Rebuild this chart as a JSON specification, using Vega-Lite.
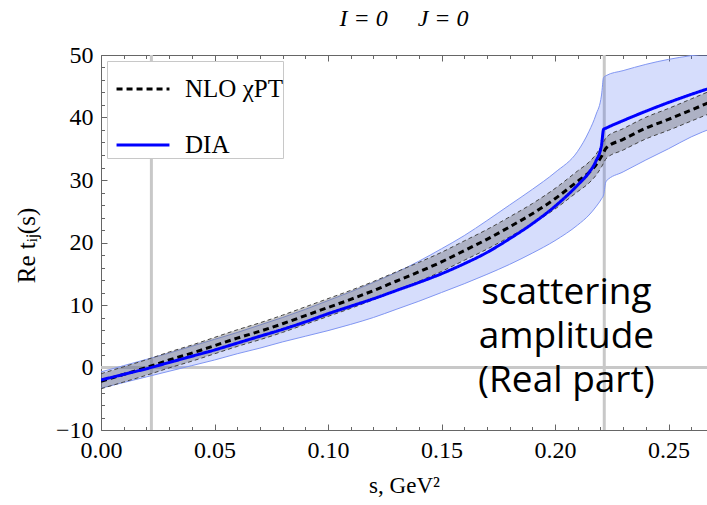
{
  "$schema": "https://vega.github.io/schema/vega-lite/v6.json",
  "width": 606,
  "height": 375,
  "autosize": {"type": "none"},
  "padding": {"left": 101, "top": 55, "right": 0, "bottom": 75},
  "title": {"text": "I = 0\u00a0\u00a0\u00a0\u00a0\u00a0J = 0", "font": "Liberation Serif", "fontSize": 24, "fontStyle": "italic", "fontWeight": "normal", "color": "black", "offset": 12, "anchor": "middle"},
  "datasets": {
    "curves": [
      {"s": 0.0, "nlo": -2.2, "nlo_lo": -3.4, "nlo_hi": -1.0, "dia": -2.0, "dia_lo": -3.3, "dia_hi": -0.7},
      {"s": 0.01, "nlo": -1.1, "nlo_lo": -2.32, "nlo_hi": 0.12, "dia": -1.1, "dia_lo": -2.4, "dia_hi": 0.3},
      {"s": 0.02, "nlo": 0.0, "nlo_lo": -1.24, "nlo_hi": 1.24, "dia": -0.2, "dia_lo": -1.5, "dia_hi": 1.3},
      {"s": 0.03, "nlo": 1.2, "nlo_lo": -0.07, "nlo_hi": 2.47, "dia": 0.8, "dia_lo": -0.6, "dia_hi": 2.3},
      {"s": 0.04, "nlo": 2.3, "nlo_lo": 1.01, "nlo_hi": 3.59, "dia": 1.8, "dia_lo": 0.3, "dia_hi": 3.4},
      {"s": 0.05, "nlo": 3.5, "nlo_lo": 2.19, "nlo_hi": 4.81, "dia": 2.8, "dia_lo": 1.2, "dia_hi": 4.5},
      {"s": 0.06, "nlo": 4.7, "nlo_lo": 3.37, "nlo_hi": 6.03, "dia": 3.9, "dia_lo": 2.2, "dia_hi": 5.6},
      {"s": 0.07, "nlo": 5.8, "nlo_lo": 4.45, "nlo_hi": 7.15, "dia": 5.0, "dia_lo": 3.1, "dia_hi": 6.8},
      {"s": 0.08, "nlo": 7.0, "nlo_lo": 5.62, "nlo_hi": 8.38, "dia": 6.1, "dia_lo": 4.1, "dia_hi": 8.0},
      {"s": 0.09, "nlo": 8.3, "nlo_lo": 6.9, "nlo_hi": 9.7, "dia": 7.3, "dia_lo": 5.0, "dia_hi": 9.3},
      {"s": 0.10, "nlo": 9.6, "nlo_lo": 8.18, "nlo_hi": 11.02, "dia": 8.6, "dia_lo": 5.9, "dia_hi": 10.7},
      {"s": 0.11, "nlo": 10.9, "nlo_lo": 9.46, "nlo_hi": 12.34, "dia": 9.8, "dia_lo": 6.9, "dia_hi": 12.1},
      {"s": 0.12, "nlo": 12.3, "nlo_lo": 10.84, "nlo_hi": 13.76, "dia": 11.0, "dia_lo": 8.0, "dia_hi": 13.6},
      {"s": 0.13, "nlo": 13.8, "nlo_lo": 12.31, "nlo_hi": 15.29, "dia": 12.3, "dia_lo": 9.3, "dia_hi": 15.2},
      {"s": 0.14, "nlo": 15.3, "nlo_lo": 13.79, "nlo_hi": 16.81, "dia": 13.6, "dia_lo": 10.6, "dia_hi": 17.0},
      {"s": 0.15, "nlo": 16.9, "nlo_lo": 15.37, "nlo_hi": 18.43, "dia": 15.0, "dia_lo": 12.0, "dia_hi": 19.0},
      {"s": 0.16, "nlo": 18.7, "nlo_lo": 17.15, "nlo_hi": 20.25, "dia": 16.6, "dia_lo": 13.4, "dia_hi": 21.1},
      {"s": 0.17, "nlo": 20.5, "nlo_lo": 18.93, "nlo_hi": 22.07, "dia": 18.4, "dia_lo": 14.9, "dia_hi": 23.5},
      {"s": 0.18, "nlo": 22.5, "nlo_lo": 20.9, "nlo_hi": 24.1, "dia": 20.6, "dia_lo": 16.5, "dia_hi": 26.0},
      {"s": 0.19, "nlo": 24.6, "nlo_lo": 22.98, "nlo_hi": 26.22, "dia": 23.0, "dia_lo": 18.3, "dia_hi": 28.5},
      {"s": 0.20, "nlo": 27.0, "nlo_lo": 25.36, "nlo_hi": 28.64, "dia": 25.8, "dia_lo": 20.3, "dia_hi": 31.2},
      {"s": 0.21, "nlo": 29.8, "nlo_lo": 28.14, "nlo_hi": 31.46, "dia": 29.2, "dia_lo": 22.8, "dia_hi": 34.6},
      {"s": 0.215, "nlo": 31.2, "nlo_lo": 29.53, "nlo_hi": 32.87, "dia": 31.2, "dia_lo": 24.4, "dia_hi": 37.8},
      {"s": 0.218, "nlo": 32.4, "nlo_lo": 30.72, "nlo_hi": 34.08, "dia": 33.0, "dia_lo": 25.7, "dia_hi": 40.4},
      {"s": 0.2205, "nlo": 33.8, "nlo_lo": 32.11, "nlo_hi": 35.49, "dia": 35.6, "dia_lo": 27.0, "dia_hi": 43.6},
      {"s": 0.2214, "nlo": 34.4, "nlo_lo": 32.71, "nlo_hi": 36.09, "dia": 38.1, "dia_lo": 27.6, "dia_hi": 46.4},
      {"s": 0.2225, "nlo": 35.1, "nlo_lo": 33.41, "nlo_hi": 36.79, "dia": 38.3, "dia_lo": 29.8, "dia_hi": 46.7},
      {"s": 0.23, "nlo": 36.5, "nlo_lo": 34.79, "nlo_hi": 38.21, "dia": 39.5, "dia_lo": 31.3, "dia_hi": 47.5},
      {"s": 0.24, "nlo": 38.3, "nlo_lo": 36.57, "nlo_hi": 40.03, "dia": 41.0, "dia_lo": 33.2, "dia_hi": 48.5},
      {"s": 0.25, "nlo": 39.7, "nlo_lo": 37.95, "nlo_hi": 41.45, "dia": 42.4, "dia_lo": 35.0, "dia_hi": 49.3},
      {"s": 0.26, "nlo": 41.2, "nlo_lo": 39.43, "nlo_hi": 42.97, "dia": 43.7, "dia_lo": 36.9, "dia_hi": 49.9},
      {"s": 0.27, "nlo": 42.7, "nlo_lo": 40.91, "nlo_hi": 44.49, "dia": 44.9, "dia_lo": 38.4, "dia_hi": 50.4}
    ],
    "vlines": [{"s": 0.0222}, {"s": 0.2217}],
    "hlines": [{"v": 0}]
  },
  "data": {"name": "curves"},
  "layer": [
    {
      "data": {"name": "vlines"},
      "mark": {"type": "rule", "color": "#c8c8c8", "strokeWidth": 3},
      "encoding": {
        "x": {"field": "s", "type": "quantitative", "scale": {"domain": [0, 0.26696], "nice": false, "zero": false},
              "axis": {"orient": "bottom", "values": [0.01,0.02,0.03,0.04,0.06,0.07,0.08,0.09,0.11,0.12,0.13,0.14,0.16,0.17,0.18,0.19,0.21,0.22,0.23,0.24,0.26], "labels": false, "domain": false, "tickSize": -3.5, "title": null}}
      }
    },
    {
      "data": {"name": "hlines"},
      "mark": {"type": "rule", "color": "#c8c8c8", "strokeWidth": 3},
      "encoding": {
        "y": {"field": "v", "type": "quantitative", "scale": {"domain": [-10, 50], "nice": false, "zero": false},
              "axis": {"orient": "left", "values": [-8,-6,-4,-2,2,4,6,8,12,14,16,18,22,24,26,28,32,34,36,38,42,44,46,48], "labels": false, "domain": false, "tickSize": -3.5, "title": null}}
      }
    },
    {
      "mark": {"type": "area", "color": "#3355ee", "opacity": 0.2, "interpolate": "monotone", "clip": true},
      "encoding": {
        "x": {"field": "s", "type": "quantitative",
              "axis": {"orient": "bottom", "values": [0, 0.05, 0.1, 0.15, 0.2, 0.25], "format": ".2f", "labelFlush": false, "tickSize": -6, "labelPadding": 14, "title": "s, GeV²", "titlePadding": 12}},
        "y": {"field": "dia_lo", "type": "quantitative",
              "axis": {"orient": "left", "values": [-10, 0, 10, 20, 30, 40, 50], "format": "d", "labelFlush": false, "tickSize": -6, "labelPadding": 14, "title": "Re tᵢⱼ(s)", "titleFontSize": 25, "titlePadding": 16, "titleY": 190}},
        "y2": {"field": "dia_hi"}
      }
    },
    {
      "mark": {"type": "line", "color": "#8196f2", "strokeWidth": 1, "interpolate": "monotone", "clip": true},
      "encoding": {
        "x": {"field": "s", "type": "quantitative", "axis": null},
        "y": {"field": "dia_lo", "type": "quantitative", "axis": null}
      }
    },
    {
      "mark": {"type": "line", "color": "#8196f2", "strokeWidth": 1, "interpolate": "monotone", "clip": true},
      "encoding": {
        "x": {"field": "s", "type": "quantitative", "axis": null},
        "y": {"field": "dia_hi", "type": "quantitative", "axis": null}
      }
    },
    {
      "mark": {"type": "area", "color": "#707070", "opacity": 0.4, "interpolate": "monotone", "clip": true},
      "encoding": {
        "x": {"field": "s", "type": "quantitative",
              "axis": {"orient": "top", "values": [0, 0.05, 0.1, 0.15, 0.2, 0.25], "labels": false, "tickSize": -6, "title": null}},
        "y": {"field": "nlo_lo", "type": "quantitative", "axis": null},
        "y2": {"field": "nlo_hi"}
      }
    },
    {
      "mark": {"type": "line", "color": "#444444", "strokeWidth": 1, "strokeDash": [4, 3], "interpolate": "monotone", "clip": true},
      "encoding": {
        "x": {"field": "s", "type": "quantitative",
              "axis": {"orient": "top", "values": [0.01,0.02,0.03,0.04,0.06,0.07,0.08,0.09,0.11,0.12,0.13,0.14,0.16,0.17,0.18,0.19,0.21,0.22,0.23,0.24,0.26], "labels": false, "domain": false, "tickSize": -3.5, "title": null}},
        "y": {"field": "nlo_lo", "type": "quantitative", "axis": null}
      }
    },
    {
      "mark": {"type": "line", "color": "#444444", "strokeWidth": 1, "strokeDash": [4, 3], "interpolate": "monotone", "clip": true},
      "encoding": {
        "x": {"field": "s", "type": "quantitative", "axis": null},
        "y": {"field": "nlo_hi", "type": "quantitative", "axis": null}
      }
    },
    {
      "transform": [{"fold": ["nlo", "dia"], "as": ["series", "val"]}],
      "mark": {"type": "line", "strokeWidth": 3, "interpolate": "monotone", "clip": true},
      "encoding": {
        "x": {"field": "s", "type": "quantitative", "axis": null},
        "y": {"field": "val", "type": "quantitative", "axis": null},
        "stroke": {"field": "series", "type": "nominal", "title": null,
                   "scale": {"domain": ["nlo", "dia"], "range": ["#000000", "#0000ff"]},
                   "legend": {"labelExpr": "datum.label == 'nlo' ? 'NLO χPT' : 'DIA'"}},
        "strokeDash": {"field": "series", "type": "nominal", "title": null,
                   "scale": {"domain": ["nlo", "dia"], "range": [[6, 4], [1, 0]]},
                   "legend": {"labelExpr": "datum.label == 'nlo' ? 'NLO χPT' : 'DIA'"}}
      }
    },
    {
      "data": {"values": [{"label": "scattering"}]},
      "mark": {"type": "text", "font": "Open Sans", "fontSize": 37, "align": "center", "baseline": "alphabetic", "lineHeight": 44, "color": "black"},
      "encoding": {
        "x": {"datum": 0.2050, "type": "quantitative", "axis": null},
        "y": {"datum": 10.1, "type": "quantitative", "axis": null},
        "text": {"value": ["scattering", "amplitude", "(Real part)"]}
      }
    }
  ],
  "resolve": {"axis": {"x": "independent", "y": "independent"}},
  "config": {
    "view": {"stroke": null},
    "axis": {"grid": false, "labelFont": "Liberation Serif", "labelFontSize": 24, "labelColor": "black",
             "titleFont": "Liberation Serif", "titleFontSize": 23, "titleFontWeight": "normal", "titleColor": "black",
             "domainColor": "#666666", "tickColor": "#666666"},
    "legend": {"orient": "top-left", "offset": 6, "padding": 0, "fillColor": "white", "strokeColor": "#c8c8c8",
               "symbolType": "stroke", "symbolSize": 2800, "symbolStrokeWidth": 3, "symbolOffset": 8,
               "labelFont": "Liberation Serif", "labelFontSize": 25, "labelColor": "black",
               "rowPadding": 15, "labelOffset": 14}
  }
}
